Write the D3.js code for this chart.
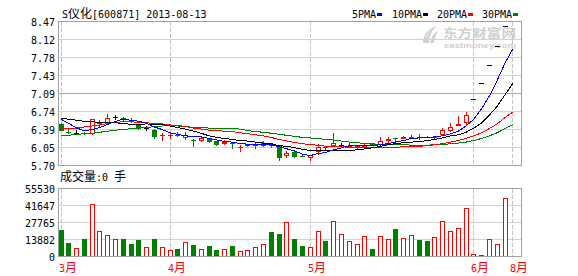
<!DOCTYPE html>
<html><head><meta charset="utf-8">
<script src="https://cdn.jsdelivr.net/npm/d3@7/dist/d3.min.js"></script>
<style>body{margin:0;background:#fff}svg{display:block}</style>
</head><body><svg id="c" width="578" height="276"></svg>
<script>
// ---------------- data ----------------
const titleParts = ["S", "仪化", "[600871] 2013-08-13"];
const volumeTitle = ["成交量", ":0 ", "手"];
const legendLabels = ["5PMA", "10PMA", "20PMA", "30PMA"];
const priceTickLabels = ["8.47", "8.12", "7.78", "7.43", "7.09", "6.74", "6.39", "6.05", "5.70"];
const volumeTickLabels = ["55530", "41647", "27765", "13882", "0"];
const monthLabels = ["3月", "4月", "5月", "6月", "8月"];
const monthIndex = [0, 14, 32, 53, 58];

const open  = [6.51,6.36,6.34,6.33,6.32,6.51,6.52,6.65,6.62,6.59,6.51,6.44,6.40,6.27,6.28,6.30,6.24,6.20,6.18,6.23,
               6.18,6.12,6.14,6.06,6.08,6.10,6.08,6.10,6.08,5.90,5.96,5.89,5.85,5.97,6.07,6.09,6.10,6.05,6.06,6.07,
               6.14,6.11,6.19,6.23,6.22,6.25,6.26,6.26,6.23,6.29,6.38,6.47,6.52,6.98,7.30,7.65,8.01,8.39];
const high  = [6.52,6.41,6.39,6.36,6.60,6.59,6.70,6.68,6.65,6.63,6.51,6.47,6.41,6.33,6.35,6.35,6.36,6.21,6.25,6.23,
               6.19,6.20,6.15,6.11,6.13,6.16,6.18,6.11,6.08,5.99,5.98,5.91,5.91,6.12,6.08,6.33,6.14,6.14,6.11,6.15,
               6.15,6.26,6.26,6.23,6.27,6.29,6.32,6.27,6.27,6.44,6.52,6.67,6.74,6.98,7.30,7.65,8.01,8.39];
const low   = [6.37,6.31,6.29,6.29,6.29,6.45,6.51,6.59,6.57,6.53,6.39,6.38,6.21,6.19,6.22,6.25,6.20,6.07,6.16,6.15,
               6.08,6.10,6.03,5.96,6.07,6.03,6.06,6.05,5.80,5.85,5.85,5.87,5.80,5.91,6.01,6.07,6.05,6.04,6.03,6.03,
               6.08,6.09,6.14,6.16,6.21,6.21,6.20,6.23,6.22,6.27,6.35,6.47,6.49,6.98,7.30,7.65,8.01,8.39];
const close = [6.38,6.34,6.34,6.32,6.60,6.53,6.62,6.65,6.61,6.58,6.42,6.44,6.25,6.29,6.29,6.29,6.30,6.19,6.23,6.16,
               6.10,6.17,6.12,6.07,6.12,6.11,6.15,6.08,5.86,5.95,5.88,5.88,5.91,6.06,6.05,6.15,6.10,6.09,6.08,6.08,
               6.09,6.19,6.21,6.22,6.26,6.26,6.25,6.25,6.26,6.40,6.45,6.50,6.69,6.98,7.30,7.65,8.01,8.39];
const volume = [22050,11680,7100,14700,43280,21230,17700,14450,14700,10620,13880,7900,14700,7900,5700,6530,12000,9800,6290,8980,
                5720,6290,8980,4650,5720,7920,10370,20400,18780,28330,14700,8980,8170,20980,13070,29150,18780,13070,10620,17150,
                6530,17150,14700,22870,15520,17970,13880,13070,16330,29400,21230,23680,40010,2200,1630,14700,10620,48180,0];
const ma5  = [6.60,6.52,6.43,6.38,6.40,6.44,6.50,6.56,6.60,6.58,6.56,6.52,6.45,6.40,6.34,6.31,6.28,6.27,6.26,6.23,
              6.20,6.17,6.16,6.13,6.12,6.12,6.11,6.11,6.07,6.03,5.99,5.93,5.90,5.94,5.96,6.01,6.05,6.09,6.09,6.10,
              6.09,6.11,6.13,6.16,6.19,6.23,6.24,6.25,6.26,6.28,6.32,6.37,6.47,6.60,6.80,7.05,7.35,7.68,7.95];
const ma10 = [6.62,6.60,6.58,6.56,6.55,6.54,6.54,6.53,6.52,6.50,6.50,6.51,6.50,6.50,6.47,6.44,6.41,6.37,6.33,6.28,
              6.25,6.23,6.21,6.19,6.18,6.16,6.14,6.13,6.09,6.08,6.05,6.02,6.00,6.00,5.99,6.00,6.00,6.00,6.01,6.03,
              6.05,6.08,6.11,6.13,6.15,6.16,6.17,6.19,6.21,6.24,6.28,6.30,6.35,6.43,6.53,6.68,6.85,7.07,7.29];
const ma20 = [6.43,6.43,6.43,6.45,6.47,6.49,6.52,6.54,6.55,6.55,6.54,6.53,6.52,6.51,6.49,6.48,6.46,6.43,6.41,6.39,
              6.38,6.37,6.36,6.34,6.32,6.30,6.28,6.25,6.21,6.18,6.15,6.13,6.11,6.10,6.08,6.08,6.07,6.06,6.06,6.05,
              6.05,6.05,6.06,6.06,6.07,6.08,6.08,6.09,6.11,6.13,6.16,6.19,6.23,6.28,6.34,6.42,6.51,6.63,6.74];
const ma30 = [6.28,6.29,6.31,6.32,6.33,6.35,6.37,6.39,6.40,6.42,6.43,6.44,6.46,6.47,6.47,6.47,6.46,6.44,6.44,6.43,
              6.43,6.43,6.42,6.41,6.38,6.36,6.35,6.33,6.31,6.29,6.27,6.25,6.24,6.23,6.21,6.20,6.18,6.16,6.15,6.13,
              6.12,6.11,6.11,6.11,6.11,6.10,6.10,6.10,6.11,6.11,6.13,6.14,6.16,6.19,6.23,6.28,6.34,6.42,6.50];

// ---------------- layout ----------------
const L = 58, R = 522, T = 22, B = 166, VT = 189, VB = 257;
const MONO = "'DejaVu Sans Mono', 'Liberation Mono', monospace";
const CJK = "'Noto Sans CJK SC', sans-serif";
const RED = "#ff0000", GREEN = "#008000", BLUE = "#0000ff", BLACK = "#000000";

const svg = d3.select("#c");
svg.append("rect").attr("width", 578).attr("height", 276).attr("fill", "#fff");

const x = d3.scaleLinear().domain([0, 58]).range([61, 512.8]);
const y = d3.scaleLinear().domain([5.70, 8.47]).range([B, T]);
const yv = d3.scaleLinear().domain([0, 55530]).range([VB, VT]);

// ---------------- watermark ----------------
const wm = svg.append("g").attr("fill", "#d0d0d0");
wm.append("path").attr("d", "M423,43 C423,35 428,28 437,26 C432,30 429,36 429,43 Z");
wm.append("path").attr("d", "M430,43 C431,37 434,33 438,31 C436,35 434,39 434,43 Z");
wm.append("path").attr("d", "M425,38 C426,33 429,30 432,28 C429,32 428,35 428,38 Z").attr("fill", "#e0e0e0");
wm.append("text").attr("x", 443).attr("y", 37.5).attr("font-family", CJK).attr("font-weight", "bold")
  .attr("font-size", 12).attr("textLength", 73).attr("lengthAdjust", "spacingAndGlyphs").text("东方财富网");
wm.append("text").attr("x", 444).attr("y", 47.5).attr("font-family", "'Liberation Sans', Arial, sans-serif")
  .attr("font-weight", "bold").attr("font-size", 8).attr("textLength", 72).attr("lengthAdjust", "spacingAndGlyphs")
  .text("eastmoney.com");

// ---------------- grids ----------------
const grid = svg.append("g").attr("shape-rendering", "crispEdges");
const priceTickVals = d3.range(priceTickLabels.length).map(k => 8.47 - k * (8.47 - 5.70) / (priceTickLabels.length - 1));
priceTickVals.forEach((v, k) => {
  const yy = Math.round(y(v)) - 0.5;
  grid.append("line").attr("x1", L).attr("x2", R).attr("y1", yy).attr("y2", yy)
    .attr("stroke", k === 4 ? "#a8a8a8" : "#d2d2d2");
});
const volTickVals = d3.range(volumeTickLabels.length).map(k => 55530 - k * 55530 / (volumeTickLabels.length - 1));
volTickVals.forEach(v => {
  const yy = Math.round(yv(v)) - 0.5;
  grid.append("line").attr("x1", L).attr("x2", R).attr("y1", yy).attr("y2", yy).attr("stroke", "#d2d2d2");
});
monthIndex.forEach(i => {
  const xx = Math.floor(x(i)) + 0.5;
  [[T, B], [VT, VB]].forEach(([a, b]) => {
    grid.append("line").attr("x1", xx).attr("x2", xx).attr("y1", a).attr("y2", b)
      .attr("stroke", "#c4c4c4").attr("stroke-dasharray", "4,2");
  });
});

// ---------------- candles ----------------
const cg = svg.append("g").attr("shape-rendering", "crispEdges");
open.forEach((o, i) => {
  const c = close[i], h = high[i], l = low[i];
  const cx = Math.floor(x(i));
  const yh = Math.round(y(h)), yl = Math.round(y(l));
  const yt = Math.round(y(Math.max(o, c))), yb = Math.round(y(Math.min(o, c)));
  if (c > o) {
    if (yh < yt) cg.append("line").attr("x1", cx + 0.5).attr("x2", cx + 0.5).attr("y1", yh).attr("y2", yt).attr("stroke", RED);
    if (yl > yb) cg.append("line").attr("x1", cx + 0.5).attr("x2", cx + 0.5).attr("y1", yb).attr("y2", yl).attr("stroke", RED);
    if (yb - yt - 1 >= 1) {
      cg.append("rect").attr("x", cx - 1.5).attr("y", yt + 0.5).attr("width", 4).attr("height", yb - yt - 1)
        .attr("fill", "#fff").attr("stroke", RED);
    } else {
      cg.append("rect").attr("x", cx - 2).attr("y", yt).attr("width", 5).attr("height", Math.max(yb - yt, 1)).attr("fill", RED);
    }
  } else if (c < o) {
    if (yl > yh) cg.append("line").attr("x1", cx + 0.5).attr("x2", cx + 0.5).attr("y1", yh).attr("y2", yl).attr("stroke", GREEN);
    cg.append("rect").attr("x", cx - 2).attr("y", yt).attr("width", 5).attr("height", Math.max(yb - yt, 1)).attr("fill", GREEN);
  } else {
    if (yl > yh) cg.append("line").attr("x1", cx + 0.5).attr("x2", cx + 0.5).attr("y1", yh).attr("y2", yl).attr("stroke", BLACK);
    cg.append("line").attr("x1", cx - 2).attr("x2", cx + 3).attr("y1", yt + 0.5).attr("y2", yt + 0.5).attr("stroke", BLACK);
  }
});

// ---------------- moving averages ----------------
const line = d3.line().x((d, i) => x(i)).y(d => y(d));
const mg = svg.append("g").attr("fill", "none").attr("stroke-width", 1).attr("shape-rendering", "crispEdges");
[[ma30, GREEN], [ma20, RED], [ma10, BLACK], [ma5, BLUE]].forEach(([arr, col]) => {
  mg.append("path").attr("d", line(arr)).attr("stroke", col);
});

// ---------------- volume ----------------
const vg = svg.append("g").attr("shape-rendering", "crispEdges");
volume.forEach((v, i) => {
  if (!v) return;
  const cx = Math.floor(x(i));
  const top = Math.round(yv(v));
  const down = i < open.length && close[i] < open[i];
  if (down) {
    vg.append("rect").attr("x", cx - 2).attr("y", top).attr("width", 5).attr("height", VB - top).attr("fill", GREEN);
  } else if (VB - 1 - top >= 2) {
    vg.append("rect").attr("x", cx - 1.5).attr("y", top + 0.5).attr("width", 4).attr("height", VB - 1 - top)
      .attr("fill", "#fff").attr("stroke", RED);
  } else {
    vg.append("rect").attr("x", cx - 2).attr("y", top).attr("width", 5).attr("height", Math.max(VB - top, 1)).attr("fill", RED);
  }
});

// ---------------- borders ----------------
const bg = svg.append("g").attr("shape-rendering", "crispEdges").attr("fill", "none").attr("stroke", "#a0a0a0");
bg.append("rect").attr("x", L + 0.5).attr("y", T - 0.5).attr("width", R - L - 1).attr("height", B - T);
bg.append("rect").attr("x", L + 0.5).attr("y", VT - 0.5).attr("width", R - L - 1).attr("height", VB - VT);

// ---------------- axis labels ----------------
const tg = svg.append("g").attr("font-family", MONO).attr("font-size", 10).attr("fill", "#000");
priceTickVals.forEach((v, k) => {
  tg.append("text").attr("x", 55).attr("y", Math.round(y(v)) + 3.5).attr("text-anchor", "end").text(priceTickLabels[k]);
});
volTickVals.forEach((v, k) => {
  tg.append("text").attr("x", 55).attr("y", Math.round(yv(v)) + 3.5).attr("text-anchor", "end").text(volumeTickLabels[k]);
});
monthIndex.forEach((i, k) => {
  const t = svg.append("text").attr("x", Math.floor(x(i)) - 2).attr("y", 271.5).attr("fill", RED);
  t.append("tspan").attr("font-family", MONO).attr("font-size", 10).text(monthLabels[k].slice(0, 1));
  t.append("tspan").attr("font-family", CJK).attr("font-size", 12).text(monthLabels[k].slice(1));
});

// ---------------- title ----------------
const title = svg.append("text").attr("x", 62).attr("y", 18).attr("fill", "#000");
title.append("tspan").attr("font-family", MONO).attr("font-size", 10).text(titleParts[0]);
title.append("tspan").attr("font-family", CJK).attr("font-size", 12).text(titleParts[1]);
title.append("tspan").attr("font-family", MONO).attr("font-size", 10).text(titleParts[2]);

const vt = svg.append("text").attr("x", 60).attr("y", 181).attr("fill", "#000");
vt.append("tspan").attr("font-family", CJK).attr("font-size", 12).text(volumeTitle[0]);
vt.append("tspan").attr("font-family", MONO).attr("font-size", 10).text(volumeTitle[1]);
vt.append("tspan").attr("font-family", CJK).attr("font-size", 12).text(volumeTitle[2]);

// ---------------- legend ----------------
const legendX = [352, 392, 437, 482];
const legendColors = [BLUE, BLACK, RED, GREEN];
legendLabels.forEach((lab, k) => {
  const t = svg.append("text").attr("x", legendX[k]).attr("y", 17.5).attr("font-family", MONO)
    .attr("font-size", 10).attr("fill", "#000").text(lab);
  const w = t.node().getComputedTextLength();
  svg.append("rect").attr("x", Math.round(legendX[k] + w + 1)).attr("y", 13).attr("width", 5).attr("height", 3)
    .attr("fill", legendColors[k]).attr("shape-rendering", "crispEdges");
});
</script></body></html>
